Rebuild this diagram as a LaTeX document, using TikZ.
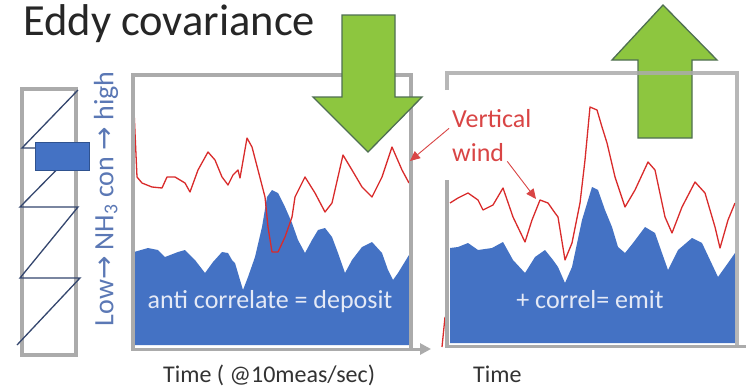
\documentclass[tikz,border=0pt]{standalone}
\usepackage{fontspec}
\setmainfont{Carlito}
\newfontfamily\symfont{DejaVu Sans}
\usetikzlibrary{arrows.meta}
\definecolor{gframe}{HTML}{ABABAB}
\definecolor{bfill}{HTML}{4472C4}
\definecolor{bdark}{HTML}{2F528F}
\definecolor{rline}{HTML}{D92B2B}
\definecolor{rlab}{HTML}{D94545}
\definecolor{garrowf}{HTML}{8DC63F}
\definecolor{garrowd}{HTML}{4F6F52}
\definecolor{zig}{HTML}{34466E}
\definecolor{ylabc}{HTML}{5B78B5}
\definecolor{ltext}{HTML}{E4E9F6}
\tikzset{
  chartframe/.style={draw=gframe, line width=3.5pt},
  areafill/.style={fill=bfill},
  sigline/.style={draw=rline, line width=1.3pt, line join=round},
  greenarrow/.style={fill=garrowf, draw=garrowd, line width=1.3pt, line join=miter},
  redlbl/.style={text=rlab, font=\fontsize{26}{30}\selectfont, inner sep=0pt, anchor=base west},
  redarrow/.style={draw=rlab, line width=0.9pt, -{Triangle[length=10pt,width=9pt]}},
  bluetxt/.style={text=ltext, font=\fontsize{26}{30}\selectfont, inner sep=0pt, anchor=base},
  axtxt/.style={text=black!80, font=\fontsize{24}{28}\selectfont, inner sep=0pt, anchor=base west},
}
\begin{document}
\begin{tikzpicture}[x=1pt,y=-1pt]
\useasboundingbox (0,0) rectangle (746,388);
\fill[white] (0,0) rectangle (746,388);

% title
\node[anchor=base west, inner sep=0pt, text=black!85, font=\fontsize{44.5}{50}\selectfont] (title) at (23,35) {Eddy covariance};

% left sensor box
\draw[chartframe] (22,89) rectangle (76,355);
\draw[draw=zig, line width=1.3pt] (17,345) -- (80,278) -- (20,278) -- (78,207) -- (20,207) -- (78,148) -- (22,148) -- (78,90);
\node[fill=bfill, draw=bdark, line width=0.8pt, minimum width=54pt, minimum height=28pt, inner sep=0pt] (sensor) at (62,156) {};

% y label
\node[rotate=90, text=ylabc, font=\fontsize{28}{32}\selectfont, inner sep=0pt] (ylab) at (106,199) {Low{\symfont→} NH\textsubscript{3} con {\symfont →} high};

% left chart area
\fill[areafill] (134,345) -- (134,252) -- (148,248) -- (158,250) -- (165,257) -- (178,252) -- (185,250) -- (195,260) -- (205,273) -- (213,262) -- (222,252) -- (228,253) -- (232,260) -- (235,263) -- (240,280) -- (243,290) -- (248,277) -- (255,257) -- (262,227) -- (267,197) -- (272,190) -- (278,193) -- (285,207) -- (292,223) -- (298,240) -- (305,253) -- (312,240) -- (318,230) -- (325,228) -- (332,237) -- (338,253) -- (345,273) -- (352,260) -- (362,247) -- (372,242) -- (382,253) -- (388,270) -- (393,280) -- (398,273) -- (409,255) -- (409,345) -- cycle;
\draw[sigline] (134,110) -- (137,177) -- (142,183) -- (152,187) -- (162,188) -- (167,177) -- (175,177) -- (185,183) -- (190,192) -- (198,170) -- (208,152) -- (215,160) -- (222,177) -- (228,185) -- (233,175) -- (238,170) -- (240,178) -- (247,138) -- (252,147) -- (258,170) -- (265,197) -- (268,227) -- (272,252) -- (278,252) -- (285,237) -- (292,217) -- (295,197) -- (305,177) -- (315,193) -- (325,212) -- (332,203) -- (343,155) -- (352,170) -- (362,187) -- (372,197) -- (382,177) -- (392,147) -- (402,170) -- (409,183);

% right chart area
\fill[areafill] (450,343) -- (450,248) -- (458,247) -- (468,243) -- (478,250) -- (492,248) -- (503,242) -- (513,260) -- (525,273) -- (535,257) -- (545,250) -- (553,260) -- (558,267) -- (565,283) -- (572,267) -- (582,220) -- (592,187) -- (598,190) -- (605,210) -- (612,227) -- (618,247) -- (625,253) -- (633,243) -- (645,227) -- (655,233) -- (662,253) -- (668,270) -- (678,250) -- (692,238) -- (702,243) -- (710,260) -- (718,277) -- (728,263) -- (735,253) -- (735,343) -- cycle;
\draw[sigline] (450,203) -- (458,198) -- (468,193) -- (478,200) -- (483,210) -- (493,205) -- (503,188) -- (513,217) -- (525,242) -- (532,220) -- (540,200) -- (548,203) -- (555,213) -- (558,217) -- (565,260) -- (572,243) -- (580,203) -- (585,160) -- (590,107) -- (597,110) -- (602,127) -- (607,143) -- (615,177) -- (625,207) -- (635,190) -- (648,162) -- (655,170) -- (665,217) -- (672,233) -- (682,207) -- (695,182) -- (705,193) -- (715,227) -- (720,248) -- (728,220) -- (735,203);
\draw[sigline] (442,347) -- (445,317);

% texts on blue
\node[bluetxt] (anti) at (270,308) {anti correlate = deposit};
\node[bluetxt] (emit) at (590,308) {+ correl= emit};

% up arrow (under the frame)
\draw[greenarrow] (638,138) -- (638,60) -- (612,60) -- (663,5) -- (717,60) -- (692,60) -- (692,138) -- cycle;

% frames
\draw[chartframe] (133,349) -- (133,75) -- (411,75) -- (411,349);
\draw[draw=gframe, line width=3pt, -{Triangle[length=11pt,width=11pt]}] (131,349) -- (431,349);
\draw[chartframe, draw opacity=0.85] (447,90) -- (447,73) -- (737,73) -- (737,346);
\draw[chartframe] (447,180) -- (447,346);
\draw[draw=gframe, line width=3pt] (445,346) -- (746,346);

% down arrow (over the frame)
\draw[greenarrow] (342,15) -- (395,15) -- (395,97) -- (422,97) -- (368,152) -- (313,97) -- (342,97) -- cycle;

% labels
\node[redlbl] (vert) at (452,127) {Vertical};
\node[redlbl] (wind) at (452,161) {wind};
\coordinate (tip1) at (410,161);
\coordinate (tip2) at (536,199);
\draw[redarrow] ([xshift=-3pt,yshift=-1pt]vert.south west) -- (tip1);
\draw[redarrow] ([xshift=3pt]wind.south east) -- (tip2);

% axis labels
\node[axtxt] (xlab1) at (163,382) {Time ( @10meas/sec)};
\node[axtxt] (xlab2) at (473,382) {Time};
\end{tikzpicture}
\end{document}
